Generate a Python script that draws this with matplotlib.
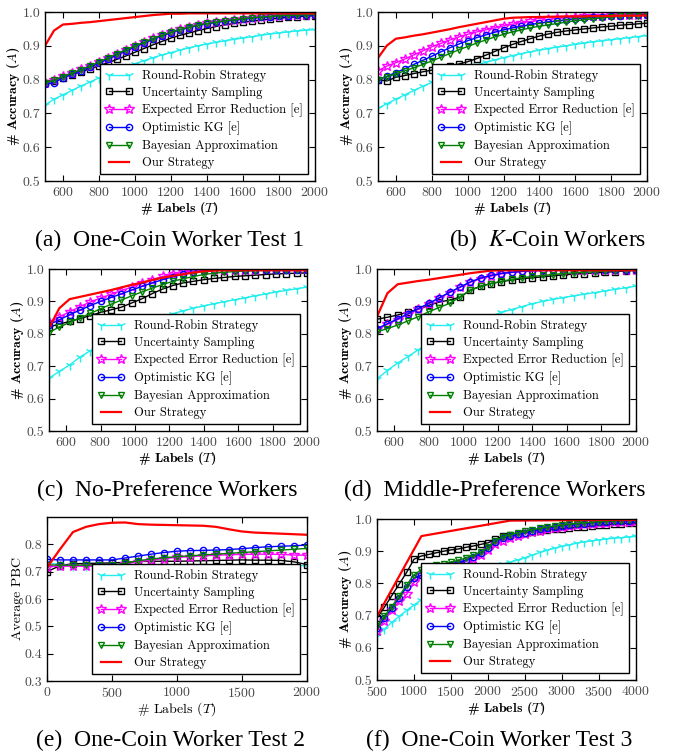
import matplotlib
matplotlib.use("Agg")
import matplotlib.pyplot as plt

plt.rcParams['mathtext.fontset'] = 'cm'
plt.rcParams['axes.formatter.use_mathtext'] = True
plt.rcParams['font.family'] = ['cmr10', 'DejaVu Serif']

# ---------------- series names ----------------
methods = ["Round-Robin Strategy", "Uncertainty Sampling",
           "Expected Error Reduction [e]", "Optimistic KG [e]",
           "Bayesian Approximation", "Our Strategy"]

# ---------------- (a) One-Coin Worker Test 1 ----------------
a_x = [500, 550, 600, 650, 700, 750, 800, 850, 900, 950, 1000, 1050, 1100, 1150, 1200, 1250,
       1300, 1350, 1400, 1450, 1500, 1550, 1600, 1650, 1700, 1750, 1800, 1850, 1900, 1950, 2000]
a_rr = [0.725, 0.742, 0.755, 0.768, 0.781, 0.793, 0.805, 0.816, 0.827, 0.837, 0.847, 0.856, 0.865,
        0.873, 0.880, 0.887, 0.894, 0.900, 0.905, 0.910, 0.915, 0.919, 0.923, 0.927, 0.931, 0.935,
        0.938, 0.941, 0.944, 0.946, 0.948]
a_us = [0.789, 0.797, 0.806, 0.815, 0.823, 0.832, 0.841, 0.850, 0.860, 0.870, 0.881, 0.892, 0.903,
        0.913, 0.923, 0.931, 0.938, 0.945, 0.951, 0.957, 0.962, 0.966, 0.970, 0.973, 0.976, 0.979,
        0.982, 0.984, 0.986, 0.988, 0.989]
a_eer = [0.790, 0.800, 0.810, 0.820, 0.830, 0.841, 0.853, 0.865, 0.877, 0.889, 0.900, 0.911, 0.922,
         0.932, 0.941, 0.949, 0.955, 0.961, 0.966, 0.970, 0.974, 0.977, 0.980, 0.983, 0.985, 0.987,
         0.989, 0.990, 0.991, 0.992, 0.993]
a_okg = [0.787, 0.790, 0.806, 0.816, 0.826, 0.837, 0.849, 0.861, 0.873, 0.885, 0.897, 0.908, 0.919,
         0.929, 0.939, 0.947, 0.954, 0.960, 0.965, 0.969, 0.973, 0.976, 0.979, 0.982, 0.984, 0.986,
         0.988, 0.989, 0.990, 0.991, 0.992]
a_ba = [0.790, 0.798, 0.809, 0.819, 0.829, 0.840, 0.852, 0.864, 0.876, 0.888, 0.899, 0.910, 0.921,
        0.931, 0.940, 0.948, 0.955, 0.961, 0.966, 0.970, 0.974, 0.977, 0.980, 0.983, 0.985, 0.987,
        0.989, 0.990, 0.991, 0.992, 0.993]
a_ours = [0.900, 0.945, 0.963, 0.965, 0.968, 0.970, 0.973, 0.976, 0.979, 0.982, 0.985, 0.988, 0.991,
          0.993, 0.995, 0.995, 0.996, 0.996, 0.996, 0.996, 0.996, 0.996, 0.996, 0.996, 0.996, 0.996,
          0.996, 0.996, 0.996, 0.996, 0.996]

# ---------------- (b) K-Coin Workers ----------------
b_x = a_x
b_rr = [0.715, 0.729, 0.742, 0.755, 0.768, 0.780, 0.792, 0.803, 0.814, 0.824, 0.834, 0.843, 0.851,
        0.858, 0.865, 0.871, 0.877, 0.882, 0.887, 0.892, 0.896, 0.900, 0.904, 0.908, 0.912, 0.915,
        0.918, 0.921, 0.924, 0.927, 0.930]
b_us = [0.800, 0.796, 0.807, 0.812, 0.818, 0.823, 0.828, 0.834, 0.840, 0.846, 0.853, 0.862, 0.872,
        0.883, 0.894, 0.904, 0.913, 0.921, 0.929, 0.935, 0.940, 0.944, 0.947, 0.950, 0.953, 0.956,
        0.958, 0.961, 0.963, 0.965, 0.967]
b_eer = [0.826, 0.840, 0.850, 0.861, 0.873, 0.885, 0.897, 0.907, 0.917, 0.926, 0.934, 0.941, 0.947,
         0.953, 0.959, 0.964, 0.968, 0.972, 0.975, 0.978, 0.981, 0.983, 0.985, 0.987, 0.988, 0.989,
         0.990, 0.991, 0.992, 0.992, 0.993]
b_okg = [0.800, 0.810, 0.821, 0.832, 0.845, 0.857, 0.869, 0.882, 0.894, 0.905, 0.915, 0.924, 0.932,
         0.940, 0.947, 0.953, 0.958, 0.963, 0.967, 0.971, 0.974, 0.977, 0.980, 0.982, 0.984, 0.986,
         0.988, 0.989, 0.990, 0.991, 0.992]
b_ba = [0.800, 0.808, 0.817, 0.826, 0.835, 0.845, 0.855, 0.866, 0.877, 0.888, 0.898, 0.908, 0.917,
        0.926, 0.934, 0.941, 0.947, 0.953, 0.958, 0.962, 0.966, 0.970, 0.974, 0.977, 0.980, 0.983,
        0.985, 0.987, 0.988, 0.989, 0.990]
b_ours = [0.864, 0.901, 0.921, 0.925, 0.930, 0.934, 0.939, 0.944, 0.949, 0.955, 0.960, 0.965, 0.970,
          0.975, 0.980, 0.983, 0.984, 0.985, 0.985, 0.986, 0.986, 0.987, 0.987, 0.987, 0.988, 0.988,
          0.988, 0.989, 0.989, 0.989, 0.990]

# ---------------- (c) No-Preference Workers ----------------
c_x = [500, 560, 620, 680, 740, 800, 860, 920, 980, 1040, 1100, 1160, 1220, 1280, 1340, 1400,
       1460, 1520, 1580, 1640, 1700, 1760, 1820, 1880, 1940, 2000]
c_rr = [0.663, 0.684, 0.704, 0.728, 0.748, 0.766, 0.782, 0.797, 0.811, 0.826, 0.841, 0.852, 0.862,
        0.871, 0.879, 0.886, 0.893, 0.899, 0.905, 0.911, 0.917, 0.923, 0.929, 0.934, 0.939, 0.944]
c_us = [0.821, 0.830, 0.838, 0.847, 0.856, 0.866, 0.874, 0.882, 0.895, 0.908, 0.924, 0.938, 0.949,
        0.957, 0.962, 0.967, 0.971, 0.974, 0.977, 0.979, 0.981, 0.983, 0.985, 0.986, 0.987, 0.988]
c_eer = [0.835, 0.852, 0.868, 0.884, 0.898, 0.910, 0.922, 0.933, 0.944, 0.956, 0.967, 0.977, 0.985,
         0.990, 0.994, 0.996, 0.997, 0.998, 0.998, 0.998, 0.998, 0.999, 0.999, 0.999, 0.999, 0.999]
c_okg = [0.828, 0.843, 0.859, 0.873, 0.887, 0.900, 0.912, 0.923, 0.935, 0.946, 0.957, 0.967, 0.976,
         0.984, 0.990, 0.994, 0.996, 0.997, 0.997, 0.997, 0.998, 0.998, 0.998, 0.998, 0.998, 0.998]
c_ba = [0.804, 0.821, 0.835, 0.849, 0.863, 0.877, 0.891, 0.904, 0.917, 0.929, 0.941, 0.952, 0.962,
        0.970, 0.977, 0.983, 0.987, 0.990, 0.992, 0.994, 0.995, 0.996, 0.997, 0.997, 0.998, 0.998]
c_ours = [0.818, 0.879, 0.907, 0.914, 0.921, 0.928, 0.935, 0.943, 0.951, 0.958, 0.966, 0.973, 0.979,
          0.984, 0.989, 0.993, 0.995, 0.996, 0.996, 0.996, 0.996, 0.996, 0.996, 0.996, 0.996, 0.996]

# ---------------- (d) Middle-Preference Workers ----------------
d_x = c_x
d_rr = [0.661, 0.687, 0.710, 0.730, 0.751, 0.772, 0.789, 0.805, 0.819, 0.832, 0.844, 0.855, 0.866,
        0.875, 0.884, 0.893, 0.900, 0.906, 0.912, 0.917, 0.922, 0.927, 0.932, 0.937, 0.942, 0.947]
d_us = [0.845, 0.851, 0.858, 0.867, 0.876, 0.888, 0.898, 0.904, 0.913, 0.935, 0.947, 0.955, 0.961,
        0.966, 0.970, 0.973, 0.976, 0.979, 0.982, 0.984, 0.986, 0.988, 0.990, 0.992, 0.994, 0.996]
d_eer = [0.814, 0.829, 0.844, 0.860, 0.876, 0.893, 0.910, 0.927, 0.943, 0.959, 0.970, 0.978, 0.985,
         0.989, 0.992, 0.994, 0.995, 0.996, 0.996, 0.997, 0.997, 0.997, 0.998, 0.998, 0.998, 0.998]
d_okg = [0.816, 0.831, 0.846, 0.862, 0.878, 0.894, 0.911, 0.928, 0.944, 0.960, 0.972, 0.980, 0.986,
         0.990, 0.993, 0.995, 0.996, 0.996, 0.997, 0.997, 0.997, 0.998, 0.998, 0.998, 0.998, 0.998]
d_ba = [0.806, 0.816, 0.827, 0.840, 0.853, 0.868, 0.881, 0.894, 0.913, 0.934, 0.946, 0.955, 0.962,
        0.968, 0.973, 0.977, 0.980, 0.983, 0.986, 0.988, 0.990, 0.992, 0.994, 0.995, 0.996, 0.997]
d_ours = [0.853, 0.925, 0.953, 0.958, 0.963, 0.967, 0.972, 0.977, 0.982, 0.987, 0.991, 0.995, 0.996,
          0.996, 0.996, 0.996, 0.996, 0.996, 0.996, 0.996, 0.996, 0.996, 0.996, 0.996, 0.996, 0.996]

# ---------------- (e) One-Coin Worker Test 2 (PBC) ----------------
e_x = [0, 100, 200, 300, 400, 500, 600, 700, 800, 900, 1000, 1100, 1200, 1300, 1400, 1500,
       1600, 1700, 1800, 1900, 2000]
e_rr = [0.735, 0.724, 0.722, 0.722, 0.722, 0.722, 0.722, 0.722, 0.722, 0.722, 0.722, 0.722, 0.722,
        0.722, 0.722, 0.722, 0.722, 0.722, 0.722, 0.722, 0.722]
e_us = [0.700, 0.722, 0.729, 0.730, 0.731, 0.732, 0.734, 0.737, 0.738, 0.738, 0.738, 0.739, 0.740,
        0.741, 0.742, 0.743, 0.742, 0.742, 0.741, 0.736, 0.726]
e_eer = [0.718, 0.720, 0.720, 0.720, 0.720, 0.720, 0.728, 0.736, 0.742, 0.748, 0.752, 0.755, 0.758,
         0.760, 0.762, 0.763, 0.764, 0.764, 0.763, 0.761, 0.760]
e_okg = [0.745, 0.743, 0.743, 0.743, 0.743, 0.743, 0.750, 0.757, 0.764, 0.770, 0.775, 0.777, 0.778,
         0.779, 0.781, 0.784, 0.788, 0.791, 0.793, 0.795, 0.797]
e_ba = [0.725, 0.724, 0.724, 0.724, 0.724, 0.724, 0.730, 0.740, 0.746, 0.751, 0.755, 0.758, 0.761,
        0.764, 0.767, 0.770, 0.773, 0.776, 0.779, 0.782, 0.785]
e_ours = [0.715, 0.782, 0.845, 0.864, 0.874, 0.879, 0.880, 0.874, 0.872, 0.871, 0.870, 0.869, 0.868,
          0.864, 0.855, 0.847, 0.843, 0.841, 0.839, 0.837, 0.835]

# ---------------- (f) One-Coin Worker Test 3 ----------------
f_x = [500, 600, 700, 800, 900, 1000, 1100, 1200, 1300, 1400, 1500, 1600, 1700, 1800, 1900, 2000,
       2100, 2200, 2300, 2400, 2500, 2600, 2700, 2800, 2900, 3000, 3100, 3200, 3300, 3400, 3500,
       3600, 3700, 3800, 3900, 4000]
f_rr = [0.637, 0.658, 0.679, 0.698, 0.716, 0.733, 0.749, 0.763, 0.776, 0.788, 0.799, 0.809, 0.818,
        0.827, 0.835, 0.843, 0.851, 0.859, 0.866, 0.873, 0.880, 0.888, 0.896, 0.903, 0.909, 0.915,
        0.920, 0.925, 0.929, 0.932, 0.935, 0.938, 0.940, 0.942, 0.944, 0.946]
f_us = [0.692, 0.726, 0.762, 0.798, 0.834, 0.875, 0.885, 0.890, 0.895, 0.900, 0.904, 0.907, 0.912,
        0.916, 0.921, 0.926, 0.937, 0.946, 0.950, 0.954, 0.957, 0.960, 0.963, 0.966, 0.968, 0.970,
        0.972, 0.974, 0.976, 0.978, 0.980, 0.982, 0.984, 0.986, 0.987, 0.989]
f_eer = [0.653, 0.684, 0.716, 0.744, 0.766, 0.803, 0.826, 0.838, 0.843, 0.847, 0.853, 0.860, 0.868,
         0.877, 0.887, 0.903, 0.922, 0.933, 0.941, 0.948, 0.954, 0.959, 0.964, 0.969, 0.973, 0.976,
         0.979, 0.982, 0.984, 0.986, 0.988, 0.989, 0.990, 0.991, 0.992, 0.993]
f_okg = [0.660, 0.692, 0.723, 0.756, 0.788, 0.816, 0.826, 0.836, 0.845, 0.849, 0.857, 0.864, 0.872,
         0.881, 0.893, 0.910, 0.930, 0.940, 0.946, 0.952, 0.958, 0.963, 0.968, 0.972, 0.976, 0.979,
         0.982, 0.984, 0.986, 0.988, 0.990, 0.992, 0.993, 0.994, 0.995, 0.996]
f_ba = [0.668, 0.698, 0.728, 0.761, 0.795, 0.826, 0.843, 0.851, 0.856, 0.861, 0.866, 0.872, 0.879,
        0.887, 0.897, 0.912, 0.933, 0.944, 0.951, 0.957, 0.962, 0.967, 0.971, 0.975, 0.978, 0.981,
        0.984, 0.986, 0.988, 0.990, 0.992, 0.993, 0.994, 0.995, 0.996, 0.997]
f_ours_x = [500, 1100, 1700, 2300, 2900, 3500, 4000]
f_ours = [0.698, 0.947, 0.971, 0.995, 0.996, 0.997, 0.997]

captions = ["(a)  One-Coin Worker Test 1", "(b)  $K$-Coin Workers",
            "(c)  No-Preference Workers", "(d)  Middle-Preference Workers",
            "(e)  One-Coin Worker Test 2", "(f)  One-Coin Worker Test 3"]

# ---------------- styling ----------------
styles = [
    dict(color='#22EEEE', marker='1', markersize=7, mew=1.0, lw=1.0),
    dict(color='black', marker='s', markersize=4.5, mew=1.0, lw=1.0, mfc='none'),
    dict(color='#FF00FF', marker='*', markersize=7, mew=1.0, lw=1.0, mfc='none'),
    dict(color='#0000FF', marker='o', markersize=4.5, mew=1.0, lw=1.0, mfc='none'),
    dict(color='#008000', marker='v', markersize=5, mew=1.0, lw=1.0, mfc='none'),
    dict(color='#FF0000', lw=1.6),
]

W, H = 684, 756
fig = plt.figure(figsize=(W / 100, H / 100), dpi=100)


def box(l, t, r, b):
    return [l / W, 1 - b / H, (r - l) / W, (b - t) / H]


panels = [
    dict(rect=box(45, 12, 315, 181), x=a_x, ys=[a_rr, a_us, a_eer, a_okg, a_ba], ox=a_x, oy=a_ours,
         xlim=(500, 2000), xt=range(600, 2001, 200), ylim=(0.5, 1.0), yt=[0.5, 0.6, 0.7, 0.8, 0.9, 1.0],
         ylabel=r"# Accuracy ($A$)", bold=True, cap=(170, 240)),
    dict(rect=box(378, 12, 647, 181), x=b_x, ys=[b_rr, b_us, b_eer, b_okg, b_ba], ox=b_x, oy=b_ours,
         xlim=(500, 2000), xt=range(600, 2001, 200), ylim=(0.5, 1.0), yt=[0.5, 0.6, 0.7, 0.8, 0.9, 1.0],
         ylabel=r"# Accuracy ($A$)", bold=True, cap=(548, 240)),
    dict(rect=box(49, 269, 307, 431), x=c_x, ys=[c_rr, c_us, c_eer, c_okg, c_ba], ox=c_x, oy=c_ours,
         xlim=(500, 2000), xt=range(600, 2001, 200), ylim=(0.5, 1.0), yt=[0.5, 0.6, 0.7, 0.8, 0.9, 1.0],
         ylabel=r"# Accuracy ($A$)", bold=True, cap=(167, 490)),
    dict(rect=box(377, 269, 636, 431), x=d_x, ys=[d_rr, d_us, d_eer, d_okg, d_ba], ox=d_x, oy=d_ours,
         xlim=(500, 2000), xt=range(600, 2001, 200), ylim=(0.5, 1.0), yt=[0.5, 0.6, 0.7, 0.8, 0.9, 1.0],
         ylabel=r"# Accuracy ($A$)", bold=True, cap=(495, 490)),
    dict(rect=box(47, 517, 307, 681), x=e_x, ys=[e_rr, e_us, e_eer, e_okg, e_ba], ox=e_x, oy=e_ours,
         xlim=(0, 2000), xt=range(0, 2001, 500), ylim=(0.3, 0.9), yt=[0.3, 0.4, 0.5, 0.6, 0.7, 0.8],
         ylabel="Average PBC", bold=False, cap=(171, 740)),
    dict(rect=box(377, 519, 636, 680), x=f_x, ys=[f_rr, f_us, f_eer, f_okg, f_ba], ox=f_ours_x, oy=f_ours,
         xlim=(500, 4000), xt=range(500, 4001, 500), ylim=(0.5, 1.0), yt=[0.5, 0.6, 0.7, 0.8, 0.9, 1.0],
         ylabel=r"# Accuracy ($A$)", bold=True, cap=(499, 740)),
]

for p, cap in zip(panels, captions):
    ax = fig.add_axes(p['rect'])
    for ys, st, name in zip(p['ys'], styles[:5], methods[:5]):
        ax.plot(p['x'], ys, label=name, **st)
    ax.plot(p['ox'], p['oy'], label=methods[5], **styles[5])
    ax.set_xlim(*p['xlim'])
    ax.set_ylim(*p['ylim'])
    ax.set_xticks(list(p['xt']))
    ax.set_yticks(p['yt'])
    ax.set_yticklabels(["%.1f" % v for v in p['yt']])
    ax.tick_params(direction='in', top=True, right=True, length=4, width=0.8,
                   labelsize=10, labelcolor='#4a4a4a', pad=3.5)
    for s in ax.spines.values():
        s.set_linewidth(1.0)
    lab_font = ['cmb10', 'DejaVu Serif'] if p['bold'] else ['cmr10', 'DejaVu Serif']
    ax.set_xlabel(r"# Labels ($T$)", fontsize=10, family=lab_font, labelpad=0.5)
    ax.set_ylabel(p['ylabel'], fontsize=10, family=lab_font, labelpad=0.5)
    leg = ax.legend(loc='lower right', fontsize=9, numpoints=2, handlelength=2.2,
                    labelspacing=0.38, handletextpad=0.8, borderpad=0.4,
                    borderaxespad=0.55, fancybox=False, framealpha=1.0)
    leg.get_frame().set_edgecolor('black')
    leg.get_frame().set_linewidth(1.0)
    fig.text(p['cap'][0] / W, 1 - p['cap'][1] / H, cap, ha='center', va='center',
             fontsize=17, family=['Liberation Serif'], math_fontfamily='stix')

fig.savefig("out.png", dpi=100)
